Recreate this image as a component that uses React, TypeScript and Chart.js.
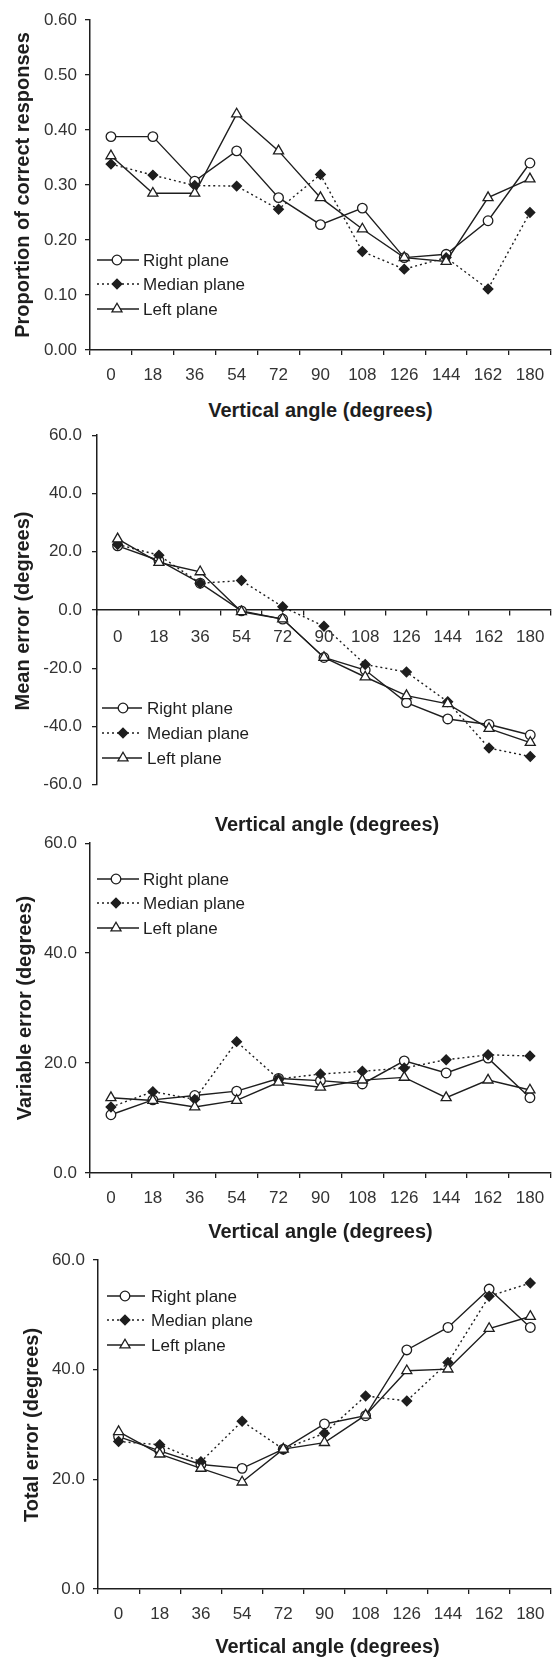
import React, { useEffect, useRef } from 'react';
import { Chart, registerables } from 'chart.js';

Chart.register(...registerables);

// ---------------- data ----------------
const angles = ['0', '18', '36', '54', '72', '90', '108', '126', '144', '162', '180'];
const seriesNames = ['Right plane', 'Median plane', 'Left plane'];

const propRight = [0.388, 0.388, 0.307, 0.362, 0.277, 0.228, 0.258, 0.168, 0.174, 0.235, 0.34];
const propMedian = [0.338, 0.318, 0.299, 0.298, 0.256, 0.319, 0.179, 0.147, 0.168, 0.111, 0.25];
const propLeft = [0.353, 0.285, 0.285, 0.429, 0.362, 0.277, 0.22, 0.168, 0.161, 0.277, 0.311];

const meanRight = [22.0, 17.0, 9.2, -0.3, -3.1, -16.3, -20.6, -31.8, -37.4, -39.3, -42.9];
const meanMedian = [22.5, 18.8, 9.2, 10.1, 1.1, -5.6, -18.7, -21.3, -31.5, -47.4, -50.3];
const meanLeft = [24.4, 16.3, 13.1, -0.6, -3.1, -16.3, -23.0, -29.4, -32.2, -40.7, -45.5];

const varRight = [10.6, 13.3, 14.1, 14.9, 17.2, 16.8, 16.2, 20.4, 18.2, 20.9, 13.7];
const varMedian = [12.0, 14.8, 13.4, 23.9, 17.1, 18.0, 18.5, 19.1, 20.6, 21.5, 21.3];
const varLeft = [13.7, 13.2, 12.0, 13.2, 16.5, 15.6, 16.9, 17.4, 13.7, 16.9, 15.1];

const totRight = [27.8, 25.2, 22.7, 22.0, 25.5, 30.1, 31.6, 43.6, 47.7, 54.7, 47.7];
const totMedian = [26.9, 26.3, 23.2, 30.6, 25.5, 28.4, 35.2, 34.3, 41.3, 53.4, 55.8];
const totLeft = [28.7, 24.6, 22.0, 19.5, 25.5, 26.7, 31.7, 39.8, 40.1, 47.5, 49.7];

const xTitle = 'Vertical angle (degrees)';

// ---------------- styles ----------------
const INK = '#1e1e1e';
const TICK_TEXT = '#333333';
const FONT = "'Liberation Sans', Arial, sans-serif";

const seriesStyles = [
  { pointStyle: 'circle', radius: 4.8, fill: '#ffffff', dash: [] as number[] },
  { pointStyle: 'rectRot', radius: 4.8, fill: INK, dash: [2, 3] },
  { pointStyle: 'triangle', radius: 5.8, fill: '#ffffff', dash: [] as number[] },
];

type PanelCfg = {
  top: number; height: number; left: number; right: number; areaTop: number; areaBottom: number;
  min: number; max: number; step: number; dec: number; zeroAxis: boolean;
  yPad: number; xPad: number;
  yTitle: string; yTitleX: number; xTitleY: number;
  legend: { rows: number[]; x0: number; x1: number; xm: number; xt: number };
  data: number[][];
};

const panels: PanelCfg[] = [
  {
    top: 0, height: 395, left: 90, right: 551, areaTop: 20, areaBottom: 350,
    min: 0, max: 0.6, step: 0.1, dec: 2, zeroAxis: false, yPad: 8, xPad: 10,
    yTitle: 'Proportion of correct responses', yTitleX: 22, xTitleY: 410,
    legend: { rows: [260, 284, 309], x0: 97, x1: 139, xm: 117, xt: 143 },
    data: [propRight, propMedian, propLeft],
  },
  {
    top: 415, height: 390, left: 97, right: 557, areaTop: 432, areaBottom: 789,
    min: -60, max: 60, step: 20, dec: 1, zeroAxis: true, yPad: 10, xPad: 12,
    yTitle: 'Mean error (degrees)', yTitleX: 22, xTitleY: 824,
    legend: { rows: [708, 733, 758], x0: 102, x1: 142, xm: 123, xt: 147 },
    data: [meanRight, meanMedian, meanLeft],
  },
  {
    top: 825, height: 390, left: 90, right: 551, areaTop: 842, areaBottom: 1173,
    min: 0, max: 60, step: 20, dec: 1, zeroAxis: false, yPad: 8, xPad: 10,
    yTitle: 'Variable error (degrees)', yTitleX: 24, xTitleY: 1231,
    legend: { rows: [879, 903, 928], x0: 97, x1: 139, xm: 116, xt: 143 },
    data: [varRight, varMedian, varLeft],
  },
  {
    top: 1240, height: 390, left: 98, right: 557, areaTop: 1260, areaBottom: 1589,
    min: 0, max: 60, step: 20, dec: 1, zeroAxis: false, yPad: 8, xPad: 10,
    yTitle: 'Total error (degrees)', yTitleX: 31, xTitleY: 1646,
    legend: { rows: [1296, 1320, 1345], x0: 107, x1: 145, xm: 125, xt: 151 },
    data: [totRight, totMedian, totLeft],
  },
];

function drawMarker(ctx: CanvasRenderingContext2D, style: string, x: number, y: number, r: number, fill: string) {
  ctx.beginPath();
  if (style === 'circle') {
    ctx.arc(x, y, r, 0, Math.PI * 2);
  } else if (style === 'rectRot') {
    ctx.moveTo(x - r, y);
    ctx.lineTo(x, y - r);
    ctx.lineTo(x + r, y);
    ctx.lineTo(x, y + r);
  } else {
    ctx.moveTo(x, y - r);
    ctx.lineTo(x + 0.866 * r, y + 0.5 * r);
    ctx.lineTo(x - 0.866 * r, y + 0.5 * r);
  }
  ctx.closePath();
  ctx.fillStyle = fill;
  ctx.fill();
  ctx.lineWidth = 1.3;
  ctx.strokeStyle = INK;
  ctx.stroke();
}

function Panel({ p }: { p: PanelCfg }) {
  const ref = useRef<HTMLCanvasElement>(null);
  useEffect(() => {
    const canvas = ref.current!;
    const legendPlugin = {
      id: 'insideLegend',
      afterDraw(chart: any) {
        const ctx: CanvasRenderingContext2D = chart.ctx;
        ctx.save();
        seriesNames.forEach((name, i) => {
          const s = seriesStyles[i];
          const y = p.legend.rows[i] - p.top;
          ctx.beginPath();
          ctx.setLineDash(s.dash);
          ctx.lineWidth = 1.4;
          ctx.strokeStyle = INK;
          ctx.moveTo(p.legend.x0, y);
          ctx.lineTo(p.legend.x1, y);
          ctx.stroke();
          ctx.setLineDash([]);
          drawMarker(ctx, s.pointStyle, p.legend.xm, y, s.radius, s.fill);
          ctx.fillStyle = INK;
          ctx.font = `17px ${FONT}`;
          ctx.textBaseline = 'middle';
          ctx.textAlign = 'left';
          ctx.fillText(name, p.legend.xt, y + 1);
        });
        ctx.restore();
      },
    };
    const xHeight = p.zeroAxis ? 0 : p.top + p.height - p.areaBottom;
    const chart = new Chart(canvas, {
      type: 'line',
      data: {
        labels: angles,
        datasets: p.data.map((d, i) => ({
          label: seriesNames[i],
          data: d,
          borderColor: INK,
          borderWidth: 1.4,
          borderDash: seriesStyles[i].dash,
          pointStyle: seriesStyles[i].pointStyle as any,
          pointRadius: seriesStyles[i].radius,
          pointBackgroundColor: seriesStyles[i].fill,
          pointBorderColor: INK,
          pointBorderWidth: 1.3,
          tension: 0,
          fill: false,
          order: 2 - i,
          clip: false as any,
        })),
      },
      options: {
        responsive: false,
        maintainAspectRatio: false,
        animation: false,
        devicePixelRatio: 1,
        layout: {
          padding: {
            top: p.areaTop - p.top,
            right: 558 - p.right,
            left: 0,
            bottom: p.zeroAxis ? p.top + p.height - p.areaBottom : 0,
          },
        },
        plugins: { legend: { display: false }, tooltip: { enabled: false }, title: { display: false } },
        scales: {
          x: {
            type: 'category',
            offset: true,
            position: (p.zeroAxis ? { y: 0 } : 'bottom') as any,
            grid: {
              display: true,
              drawOnChartArea: false,
              drawTicks: true,
              tickLength: 5,
              offset: true,
              color: INK,
              lineWidth: 1.3,
            },
            border: { display: true, color: INK, width: 1.5 },
            ticks: {
              font: { family: FONT, size: 17 },
              color: TICK_TEXT,
              padding: p.xPad,
              maxRotation: 0,
              minRotation: 0,
              autoSkip: false,
            },
            afterFit: (s: any) => {
              s.height = xHeight;
            },
          },
          y: {
            type: 'linear',
            min: p.min,
            max: p.max,
            ticks: {
              stepSize: p.step,
              font: { family: FONT, size: 17 },
              color: TICK_TEXT,
              padding: p.yPad,
              callback: (v: any) => Number(v).toFixed(p.dec),
            },
            grid: {
              display: true,
              drawOnChartArea: false,
              drawTicks: true,
              tickLength: 5,
              color: INK,
              lineWidth: 1.3,
            },
            border: { display: true, color: INK, width: 1.5 },
            afterFit: (s: any) => {
              s.width = p.left;
            },
          },
        },
      },
      plugins: [legendPlugin],
    } as any);
    return () => chart.destroy();
  }, [p]);

  const areaH = p.areaBottom - p.areaTop;
  return (
    <>
      <canvas
        ref={ref}
        width={558}
        height={p.height}
        style={{ position: 'absolute', left: 0, top: p.top, width: 558, height: p.height, display: 'block' }}
      />
      <div
        style={{
          position: 'absolute',
          left: p.yTitleX - 250,
          top: (p.areaTop + p.areaBottom) / 2 - 10,
          width: 500,
          height: 20,
          lineHeight: '20px',
          textAlign: 'center',
          whiteSpace: 'nowrap',
          transform: 'rotate(-90deg)',
          transformOrigin: '50% 50%',
          fontFamily: FONT,
          fontWeight: 'bold',
          fontSize: 20,
          color: INK,
        }}
      >
        {p.yTitle}
      </div>
      <div
        style={{
          position: 'absolute',
          left: p.left,
          width: p.right - p.left,
          top: p.xTitleY - 10,
          height: 20,
          lineHeight: '20px',
          textAlign: 'center',
          whiteSpace: 'nowrap',
          fontFamily: FONT,
          fontWeight: 'bold',
          fontSize: 20,
          color: INK,
        }}
      >
        {xTitle}
      </div>
      {areaH < 0 ? null : null}
    </>
  );
}

export default function App() {
  return (
    <div style={{ position: 'absolute', left: 0, top: 0, width: 558, height: 1657, background: '#ffffff', overflow: 'hidden' }}>
      {panels.map((p, i) => (
        <Panel key={i} p={p} />
      ))}
    </div>
  );
}
